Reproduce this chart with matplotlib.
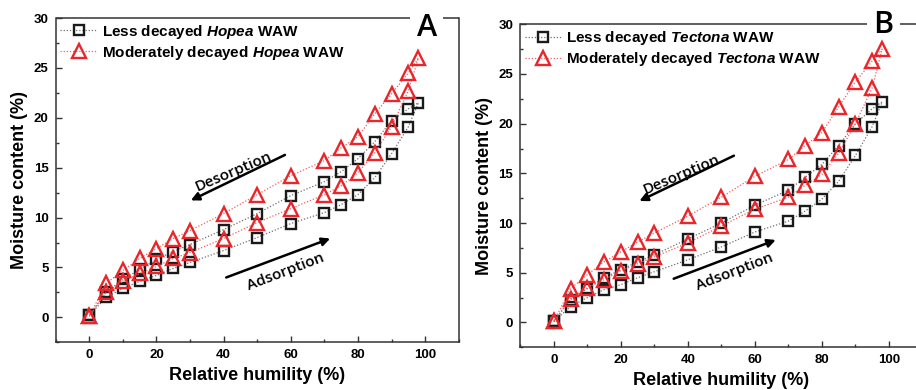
import matplotlib.pyplot as plt

plt.rcParams['font.family'] = ['Liberation Sans', 'DejaVu Sans']
plt.rcParams['mathtext.fontset'] = 'custom'
plt.rcParams['mathtext.it'] = 'Liberation Sans:italic:bold'
plt.rcParams['mathtext.rm'] = 'Liberation Sans:bold'

# relative humidity steps (adsorption goes up, desorption comes back down)
rh = [0, 5, 10, 15, 20, 25, 30, 40, 50, 60, 70, 75, 80, 85, 90, 95, 98]

# Hopea
hopea_less_ads = [0.2, 2.0, 2.9, 3.6, 4.2, 4.9, 5.5, 6.7, 8.0, 9.4, 10.5, 11.3, 12.3, 14.0, 16.4, 19.1, 21.5]
hopea_less_des = [0.2, 2.5, 3.8, 4.8, 5.8, 6.6, 7.3, 8.8, 10.4, 12.2, 13.6, 14.6, 15.9, 17.6, 19.7, 20.9, 21.5]
hopea_mod_ads = [0.1, 2.5, 3.6, 4.4, 5.1, 5.9, 6.5, 7.9, 9.5, 10.9, 12.3, 13.2, 14.5, 16.5, 19.1, 22.7, 26.0]
hopea_mod_des = [0.1, 3.4, 4.7, 5.9, 6.9, 7.9, 8.7, 10.4, 12.3, 14.2, 15.7, 17.0, 18.1, 20.4, 22.4, 24.5, 26.0]

# Tectona
tectona_less_ads = [0.1, 1.6, 2.5, 3.3, 3.8, 4.5, 5.1, 6.3, 7.6, 9.1, 10.2, 11.2, 12.4, 14.2, 16.8, 19.7, 22.2]
tectona_less_des = [0.1, 2.3, 3.4, 4.5, 5.3, 6.1, 6.8, 8.4, 10.0, 11.8, 13.3, 14.6, 15.9, 17.8, 20.0, 21.5, 22.2]
tectona_mod_ads = [0.1, 2.4, 3.5, 4.3, 5.2, 5.9, 6.6, 8.0, 9.7, 11.4, 12.6, 13.8, 14.9, 17.0, 20.0, 23.6, 27.5]
tectona_mod_des = [0.1, 3.4, 4.8, 6.1, 7.1, 8.1, 9.0, 10.7, 12.6, 14.7, 16.4, 17.8, 19.1, 21.7, 24.2, 26.3, 27.5]

BLACK = '#1a1a1a'
RED = '#e8262b'
SPINE = '#333333'


def loop(ads, des):
    # one path: up the adsorption branch, back down the desorption branch
    x = rh + rh[::-1][1:]
    y = ads + des[::-1][1:]
    return x, y


def panel(ax, less, mod, name, letter, letter_pos, gap, ann):
    x, y = loop(*less)
    ax.plot(x, y, linestyle=(0, (1, 1.5)), lw=0.9, color='#707070',
            marker='s', ms=7.5, mfc='none', mec=BLACK, mew=1.7,
            label=f'Less decayed ${name}$ WAW')
    x, y = loop(*mod)
    ax.plot(x, y, linestyle=(0, (1, 1.5)), lw=0.9, color='#f06060',
            marker='^', ms=10, mfc='none', mec=RED, mew=1.7,
            label=f'Moderately decayed ${name}$ WAW')

    ax.set_xlim(-10, 110)
    ax.set_ylim(-2.5, 30)
    ax.set_xticks([0, 20, 40, 60, 80, 100])
    ax.set_xticks(range(-10, 111, 10), minor=True)
    ax.set_yticks([0, 5, 10, 15, 20, 25, 30])
    ax.set_yticks([-2.5 + 2.5 * i for i in range(14)], minor=True)
    ax.tick_params(which='both', direction='in', top=False, right=False,
                   labelsize=9.5, width=1, color=SPINE, pad=5)
    ax.tick_params(which='major', length=4)
    ax.tick_params(which='minor', length=2.5)
    for lab in ax.get_xticklabels() + ax.get_yticklabels():
        lab.set_fontweight('bold')
    for sp in ax.spines.values():
        sp.set_linewidth(1.1)
        sp.set_color(SPINE)

    # top frame line is broken where the panel letter sits
    ax.spines['top'].set_visible(False)
    for seg in ([0, gap[0]], [gap[1], 1]):
        ax.plot(seg, [1, 1], transform=ax.transAxes, clip_on=False,
                color=SPINE, lw=1.1, solid_capstyle='butt')
    ax.text(*letter_pos, letter, transform=ax.transAxes, ha='center', va='baseline',
            fontsize=22, family='Open Sans', fontweight='semibold', clip_on=False)

    ax.set_xlabel('Relative humility (%)', fontsize=13, fontweight='bold', labelpad=4)
    ax.set_ylabel('Moisture content (%)', fontsize=13, fontweight='bold', labelpad=4)

    ax.legend(loc='upper left', frameon=False, prop={'weight': 'bold', 'size': 11},
              numpoints=1, handlelength=2.4, handletextpad=0.3,
              labelspacing=0.2, borderaxespad=0.0, borderpad=0.3)

    # direction arrows with their captions
    (d0, d1, dt, dr), (a0, a1, at, ar) = ann
    ax.annotate('', xy=d1, xytext=d0,
                arrowprops=dict(arrowstyle='-|>', lw=1.8, color='black', mutation_scale=12))
    ax.text(*dt, 'Desorption', rotation=dr, ha='center', va='center',
            fontsize=11, fontweight='semibold', family='Open Sans', rotation_mode='anchor')
    ax.annotate('', xy=a1, xytext=a0,
                arrowprops=dict(arrowstyle='-|>', lw=1.8, color='black', mutation_scale=12))
    ax.text(*at, 'Adsorption', rotation=ar, ha='center', va='center',
            fontsize=11, fontweight='semibold', family='Open Sans', rotation_mode='anchor')


fig = plt.figure(figsize=(9.16, 3.9), dpi=100)
ax_a = fig.add_axes([0.0608, 0.1223, 0.4400, 0.8315])
ax_b = fig.add_axes([0.5680, 0.1095, 0.4390, 0.8282])

panel(ax_a, (hopea_less_ads, hopea_less_des), (hopea_mod_ads, hopea_mod_des),
      'Hopea', 'A', (0.922, 0.945), (0.880, 0.962),
      (((59, 16.4), (29.5, 11.6), (43, 14.6), 23),
       ((40, 3.9), (72.5, 8.0), (58.5, 4.6), 21)))
panel(ax_b, (tectona_less_ads, tectona_less_des), (tectona_mod_ads, tectona_mod_des),
      'Tectona', 'B', (0.903, 0.972), (0.862, 0.945),
      (((54.5, 16.9), (24.8, 12.1), (38, 14.9), 23),
       ((35, 4.3), (67, 8.4), (54, 5.1), 21)))

fig.savefig('out.png', dpi=100)
